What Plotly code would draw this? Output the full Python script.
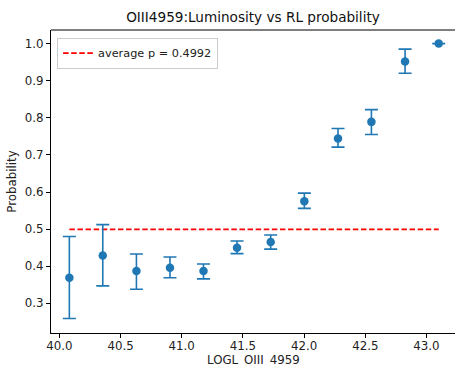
import plotly.graph_objects as go

# Data
logl = [40.082, 40.355, 40.630, 40.904, 41.178, 41.452, 41.727, 42.002, 42.277, 42.550, 42.825, 43.100]
prob = [0.369, 0.429, 0.387, 0.396, 0.387, 0.450, 0.465, 0.575, 0.744, 0.789, 0.952, 1.000]
err_hi = [0.480, 0.512, 0.433, 0.425, 0.406, 0.468, 0.484, 0.597, 0.771, 0.822, 0.985, 1.000]
err_lo = [0.259, 0.347, 0.338, 0.369, 0.366, 0.434, 0.446, 0.556, 0.721, 0.755, 0.920, 1.000]
avg_p = 0.4992

title_text = "OIII4959:Luminosity vs RL probability"
x_label = "LOGL_OIII_4959"
y_label = "Probability"
x_ticks = [40.0, 40.5, 41.0, 41.5, 42.0, 42.5, 43.0]
y_ticks = [0.3, 0.4, 0.5, 0.6, 0.7, 0.8, 0.9, 1.0]

blue = "#1f77b4"
font_family = "DejaVu Sans"
tick_size = 11.8

fig = go.Figure()

fig.add_trace(go.Scatter(
    x=[logl[0], logl[-1]], y=[avg_p, avg_p], mode="lines",
    line=dict(color="red", width=1.6, dash="5.5px,2.6px"),
    name=f"average p = {avg_p}", showlegend=True,
))

fig.add_trace(go.Scatter(
    x=logl, y=prob, mode="markers",
    marker=dict(color=blue, size=8.5),
    error_y=dict(
        type="data", symmetric=False,
        array=[h - p for h, p in zip(err_hi, prob)],
        arrayminus=[p - l for p, l in zip(prob, err_lo)],
        color=blue, thickness=1.6, width=6.5,
    ),
    showlegend=False,
))

axis_common = dict(
    showgrid=False, zeroline=False, showline=True, linecolor="black", linewidth=1,
    ticks="outside", ticklen=4, tickwidth=1, tickcolor="black",
    tickfont=dict(family=font_family, size=tick_size, color="#222"),
    automargin=False,
)

fig.update_layout(
    width=455, height=365,
    margin=dict(l=51, r=0, t=30, b=32),
    paper_bgcolor="white", plot_bgcolor="white",
    font=dict(family=font_family, color="#222"),
    title=dict(text=title_text, x=0.556, xanchor="center", y=1 - 17 / 365, yanchor="middle",
               yref="container", font=dict(family=font_family, size=13.6, color="#111")),
    xaxis=dict(range=[39.932, 43.233], tickvals=x_ticks, ticktext=[f"{v:.1f}" for v in x_ticks],
               ticklabelstandoff=-2, **axis_common),
    yaxis=dict(range=[0.220, 1.0366], tickvals=y_ticks, ticktext=[f"{v:.1f}" for v in y_ticks],
               title=dict(text=y_label, standoff=5, font=dict(family=font_family, size=tick_size, color="#222")),
               **axis_common),
    legend=dict(x=0.015, y=0.975, xanchor="left", yanchor="top",
                bgcolor="rgba(255,255,255,0.8)", bordercolor="#cccccc", borderwidth=1,
                font=dict(family=font_family, size=11.3, color="#222"),
                itemwidth=30, tracegroupgap=0),
    shapes=[dict(type="line", xref="paper", yref="paper", x0=0, x1=1, y0=1, y1=1,
                 line=dict(color="black", width=1))],
    annotations=[dict(text=x_label, xref="paper", yref="paper", x=0.5, y=0,
                      xanchor="center", yanchor="top", yshift=-18, showarrow=False,
                      font=dict(family=font_family, size=tick_size, color="#222"))],
)

fig.write_html("out.html")
